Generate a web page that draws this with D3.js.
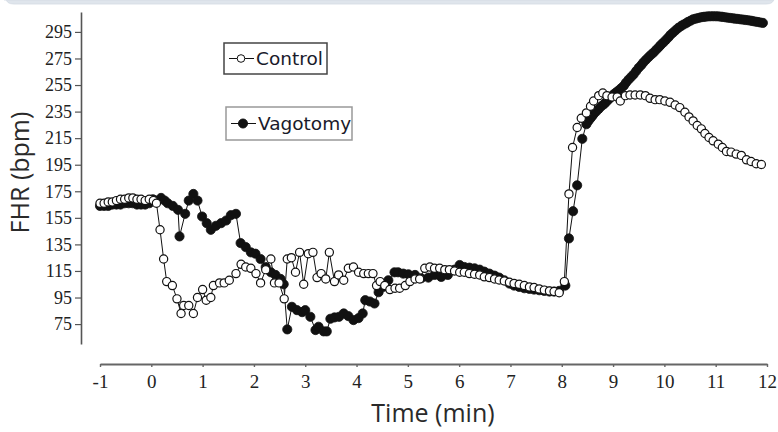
<!DOCTYPE html>
<html>
<head>
<meta charset="utf-8">
<script src="https://cdn.jsdelivr.net/npm/d3@7"></script>
<style>
  html, body { margin: 0; padding: 0; background: #fff; }
  svg { display: block; }
</style>
</head>
<body>
<svg id="chart" width="778" height="432"></svg>
<script>
// Fetal heart rate (bpm) over time (min), control vs. vagotomy
const controlTime = [
  -1.00, -0.92, -0.84, -0.76, -0.68, -0.60, -0.52, -0.44, -0.36, -0.28, -0.20, -0.12, -0.04, 0.04, 0.10,
  0.17, 0.24, 0.30, 0.41, 0.50, 0.58, 0.63, 0.73, 0.82, 0.90, 1.00, 1.07, 1.16, 1.21, 1.33, 1.42, 1.52,
  1.65, 1.75, 1.84, 1.94, 2.04, 2.13, 2.23, 2.33, 2.40, 2.49, 2.59, 2.65, 2.73, 2.81, 2.89, 2.97, 3.06,
  3.15, 3.23, 3.31, 3.40, 3.47, 3.57, 3.65, 3.75, 3.84, 3.94, 4.04, 4.14, 4.23, 4.32, 4.39, 4.46, 4.55,
  4.65, 4.75, 4.84, 4.95, 5.04, 5.14, 5.23, 5.33, 5.43, 5.52, 5.62, 5.72, 5.81, 5.91, 6.01, 6.10, 6.20,
  6.30, 6.40, 6.49, 6.59, 6.69, 6.78, 6.88, 6.98, 7.07, 7.17, 7.27, 7.37, 7.46, 7.56, 7.66, 7.76, 7.85,
  7.95, 8.05, 8.14, 8.21, 8.30, 8.38, 8.48, 8.56, 8.62, 8.72, 8.80, 8.88, 8.98, 9.08, 9.14, 9.24, 9.33,
  9.43, 9.53, 9.63, 9.72, 9.82, 9.91, 10.01, 10.11, 10.21, 10.30, 10.40, 10.48, 10.56, 10.64, 10.72,
  10.79, 10.87, 10.95, 11.05, 11.13, 11.21, 11.30, 11.40, 11.50, 11.60, 11.69, 11.79, 11.89
];
const controlFHR = [
  166, 166, 167, 167, 168, 169, 169, 170, 170, 169, 169, 168, 169, 168, 166,
  146, 124, 107, 104, 94, 83, 89, 89, 83, 95, 101, 93, 95, 104, 106, 106, 108,
  113, 120, 118, 117, 113, 106, 116, 124, 106, 106, 94, 124, 125, 114, 129, 105, 128,
  129, 110, 113, 109, 129, 107, 112, 108, 117, 118, 114, 113, 113, 113, 104, 107, 104,
  101, 102, 102, 104, 107, 109, 109, 117, 118, 117, 117, 116, 116, 115, 114, 114, 113,
  112.5, 112, 110.6, 110, 109, 108.2, 107.5, 106.5, 105.6, 105, 104, 103, 102.5, 101.5, 100.6, 100, 99.5,
  98.6, 107, 173, 208, 223, 230, 234, 239, 243, 247, 249, 247, 246, 246, 243, 247, 247.5,
  247.5, 247.5, 247, 245, 244, 244, 243, 242, 240, 238, 234.5, 231, 228, 224.5, 222,
  218.5, 215.5, 213, 210.5, 208, 205, 204.5, 203, 202, 198.7, 197.4, 195.7, 195.2
];

const vagotomyTime = [
  -1.00, -0.92, -0.84, -0.76, -0.68, -0.60, -0.52, -0.44, -0.36, -0.28, -0.20, -0.12, -0.04, 0.03, 0.10,
  0.19, 0.26, 0.32, 0.42, 0.52, 0.55, 0.66, 0.73, 0.82, 0.90, 0.99, 1.08, 1.16, 1.26, 1.36, 1.46, 1.55,
  1.65, 1.74, 1.84, 1.94, 2.03, 2.13, 2.23, 2.33, 2.42, 2.52, 2.58, 2.65, 2.74, 2.84, 2.94, 3.00, 3.10,
  3.20, 3.26, 3.36, 3.42, 3.49, 3.57, 3.66, 3.75, 3.84, 3.94, 4.04, 4.12, 4.17, 4.26, 4.35, 4.43, 4.52,
  4.62, 4.74, 4.81, 4.91, 5.01, 5.14, 5.26, 5.40, 5.52, 5.65, 5.78, 5.91, 6.01, 6.10, 6.20, 6.30, 6.40,
  6.49, 6.59, 6.69, 6.78, 6.88, 6.98, 7.07, 7.17, 7.27, 7.37, 7.46, 7.56, 7.66, 7.76, 7.85, 7.95, 8.07,
  8.14, 8.22, 8.30, 8.40, 8.48, 8.52, 8.56, 8.59, 8.62, 8.67, 8.72, 8.77, 8.82, 8.86, 8.91, 8.96, 9.01,
  9.06, 9.11, 9.16, 9.21, 9.25, 9.30, 9.35, 9.40, 9.45, 9.50, 9.55, 9.59, 9.64, 9.69, 9.74, 9.79, 9.84,
  9.89, 9.93, 9.98, 10.03, 10.08, 10.12, 10.17, 10.22, 10.27, 10.32, 10.37, 10.42, 10.46, 10.51, 10.56,
  10.61, 10.66, 10.71, 10.76, 10.80, 10.85, 10.90, 10.95, 11.00, 11.05, 11.10, 11.14, 11.19, 11.24,
  11.29, 11.34, 11.38, 11.43, 11.48, 11.53, 11.58, 11.63, 11.68, 11.72, 11.77, 11.82, 11.87, 11.92
];
const vagotomyFHR = [
  164, 164, 164, 165, 165, 165, 166, 166, 166, 165, 165, 165, 166, 169, 168,
  170, 168, 166, 164, 161, 141, 158, 168, 173, 168, 156, 151, 146, 149, 151, 153, 157,
  158, 136, 133, 129, 128, 124, 118, 114, 112, 109, 105, 71, 88, 85.5, 84, 85.5, 80.5,
  70.5, 73, 69.5, 69.5, 79, 80, 80.5, 83, 81, 78, 79.5, 83, 93, 92, 90.5, 99, 103,
  108, 114, 114, 113, 112.5, 112, 109.5, 110, 112, 110.5, 112, 116, 119.5, 118, 117.5, 117, 116,
  114.5, 113, 111.5, 110, 108, 105.5, 104, 103, 102, 101.5, 101, 100.5, 100, 99.5, 99.5, 100, 104,
  139.5, 160, 179.5, 214.5, 225.5, 228, 230, 231.5, 233, 235, 237, 239, 240.5, 242, 244, 246, 248,
  249.5, 251, 252.7, 254.5, 256.7, 259, 261, 263, 265.5, 268, 270, 272, 274, 276, 277.8, 279.5, 281.5,
  283.5, 285.2, 287, 289, 291, 292.8, 294.5, 296.3, 298, 299.3, 300.5, 301.5, 302.5, 303.5, 304.5,
  305, 305.5, 306, 306.3, 306.5, 306.7, 306.8, 306.8, 306.8, 306.7, 306.5, 306.3, 306, 305.7,
  305.5, 305.2, 305, 304.8, 304.5, 304.3, 304, 303.8, 303.5, 303.2, 302.8, 302.5, 302.1, 301.8
];

const yTickValues = [75, 95, 115, 135, 155, 175, 195, 215, 235, 255, 275, 295];
const xTickValues = [-1, 0, 1, 2, 3, 4, 5, 6, 7, 8, 9, 10, 11, 12];
const seriesNames = ["Control", "Vagotomy"];

const svg = d3.select("#chart");

// panel header strip along the top edge
svg.append("path")
  .attr("d", "M4,0 L774,0 L774,-2 Q774,4 766,4 L14,4 Q6,4 6,-2 Z")
  .attr("fill", "#dfe5ec")
  .attr("stroke", "#d3dae3")
  .attr("stroke-width", 0.8);

const x = d3.scaleLinear().domain([-1, 12]).range([100, 767]);
const y = d3.scaleLinear().domain([60, 310]).range([344, 12]);

// y axis
const yAxis = svg.append("g")
  .attr("transform", "translate(81,0)")
  .call(d3.axisLeft(y).tickValues(yTickValues).tickSize(6).tickSizeOuter(0).tickPadding(3)
    .tickFormat(d => String(d)));
yAxis.select(".domain").attr("stroke", "#555").attr("stroke-width", 1.6);
yAxis.selectAll(".tick line").attr("stroke", "#555").attr("stroke-width", 1.2);
yAxis.selectAll(".tick text")
  .attr("font-family", "'Liberation Serif', serif")
  .attr("font-size", 18)
  .attr("fill", "#222");

// x axis (plain hyphen for negative labels)
const xAxis = svg.append("g")
  .attr("transform", "translate(0,364)")
  .call(d3.axisBottom(x).tickValues(xTickValues).tickSize(3).tickSizeOuter(0).tickPadding(7.5)
    .tickFormat(d => String(d)));
xAxis.select(".domain").attr("stroke", "#666").attr("stroke-width", 2);
xAxis.selectAll(".tick line").attr("stroke", "#666").attr("stroke-width", 1.4);
xAxis.selectAll(".tick text")
  .attr("font-family", "'Liberation Serif', serif")
  .attr("font-size", 19)
  .attr("fill", "#222");

// axis titles
svg.append("text")
  .attr("transform", "translate(29,172.5) rotate(-90)")
  .attr("text-anchor", "middle")
  .attr("font-family", "'Open Sans', sans-serif")
  .attr("font-size", 25)
  .attr("fill", "#2a2a2a")
  .text("FHR (bpm)");

svg.append("text")
  .attr("x", 433)
  .attr("y", 422)
  .attr("text-anchor", "middle")
  .attr("font-family", "'Open Sans', sans-serif")
  .attr("font-size", 25)
  .attr("fill", "#2a2a2a")
  .text("Time (min)");

const line = d3.line().x(d => x(d.t)).y(d => y(d.v));

function drawSeries(times, values, filled) {
  const pts = times.map((t, i) => ({ t, v: values[i] }));
  const g = svg.append("g");
  g.append("path")
    .datum(pts)
    .attr("d", line)
    .attr("fill", "none")
    .attr("stroke", "#111")
    .attr("stroke-width", 1);
  g.selectAll("circle")
    .data(pts)
    .join("circle")
    .attr("cx", d => x(d.t))
    .attr("cy", d => y(d.v))
    .attr("r", filled ? 4.6 : 4.1)
    .attr("fill", filled ? "#111" : "#fff")
    .attr("stroke", "#111")
    .attr("stroke-width", filled ? 0.8 : 1.2);
}

drawSeries(vagotomyTime, vagotomyFHR, true);
drawSeries(controlTime, controlFHR, false);

// legend boxes
const legendItems = [
  { name: seriesNames[0], filled: false, box: [224, 43, 103, 31], border: "#444" },
  { name: seriesNames[1], filled: true, box: [226, 107, 126, 33], border: "#999" }
];
legendItems.forEach(item => {
  const [bx, by, bw, bh] = item.box;
  const cy = by + bh / 2;
  const g = svg.append("g");
  g.append("rect")
    .attr("x", bx).attr("y", by).attr("width", bw).attr("height", bh)
    .attr("fill", "#fff").attr("stroke", item.border).attr("stroke-width", 1.5);
  g.append("line")
    .attr("x1", bx + 5).attr("x2", bx + 30).attr("y1", cy).attr("y2", cy)
    .attr("stroke", "#111").attr("stroke-width", 1);
  g.append("circle")
    .attr("cx", bx + 17).attr("cy", cy).attr("r", item.filled ? 4.5 : 3.8)
    .attr("fill", item.filled ? "#111" : "#fff")
    .attr("stroke", "#111").attr("stroke-width", 1);
  g.append("text")
    .attr("x", bx + 32)
    .attr("y", cy + 6.5)
    .attr("font-family", "'DejaVu Sans', sans-serif")
    .attr("font-size", 18.5)
    .attr("fill", "#1a1a2a")
    .text(item.name);
});
</script>
</body>
</html>
